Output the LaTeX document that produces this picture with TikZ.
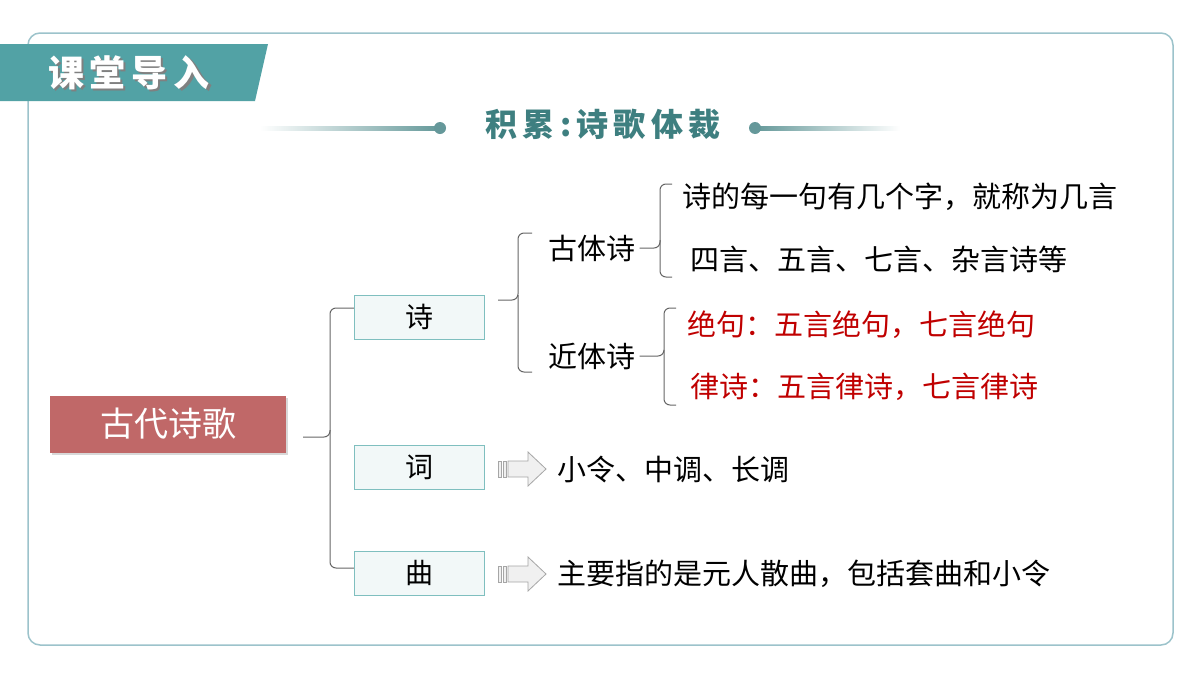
\documentclass[tikz,border=0pt]{standalone}
\usepackage{fontspec}
\setmainfont{Noto Sans CJK SC}
\usetikzlibrary{shadows}
\definecolor{frame}{HTML}{9CC3CB}
\definecolor{teal}{HTML}{52A2A5}
\definecolor{subt}{HTML}{3E7F80}
\definecolor{rosy}{HTML}{C06868}
\definecolor{boxf}{HTML}{F2F8F8}
\definecolor{boxd}{HTML}{7FBFBF}
\definecolor{redt}{HTML}{C00000}
\tikzset{
 x=1pt,y=-1pt,
 cat/.style={draw=boxd,fill=boxf,minimum width=130pt,minimum height=44pt,inner sep=0pt,font=\fontsize{28}{28}\selectfont},
 txt/.style={anchor=west,inner sep=0pt,font=\fontsize{29}{30}\selectfont},
 brace/.style={draw=gray!80!black,line width=1pt,rounded corners=6pt},
 harrow/.style={draw=gray!70,fill=gray!12,line width=0.8pt},
}
\begin{document}
\begin{tikzpicture}
\useasboundingbox (0,0) rectangle (1200,675);
\fill[white] (0,0) rectangle (1200,675);
\draw[frame,line width=1.5pt,rounded corners=12pt] (28,33) rectangle (1173,645);
\fill[teal] (0,44) -- (268,44) -- (255,101) -- (0,101) -- cycle;
\node[text=black!50,font=\fontsize{36}{36}\bfseries\selectfont] at (131,75) {课\,堂\,导\,入};
\node (ban) [text=white,font=\fontsize{36}{36}\bfseries\selectfont] at (129,73) {课\,堂\,导\,入};
\node (sub) [text=subt,font=\fontsize{32}{32}\bfseries\selectfont] at (603,124) {积\,累\,:\,诗\,歌\,体\,裁};
\shade[left color=white,right color=subt!80] (260,126) rectangle (440,130);
\fill[subt!80] (440,128) circle (6);
\shade[left color=subt!80,right color=white] (755,126) rectangle (900,130);
\fill[subt!80] (755,128) circle (6);
\node (root) [fill=rosy,text=white,minimum width=236pt,minimum height=57pt,inner sep=0pt,font=\fontsize{34}{34}\selectfont,drop shadow={opacity=0.3,shadow xshift=2pt,shadow yshift=-2pt}] at (168,424) {古代诗歌};
\node (shi) [cat] at (419,317) {诗};
\node (ci) [cat] at (419,467) {词};
\node (qu) [cat] at (419,573) {曲};
\draw[brace] (root.east)++(17,13) -- (330,437) -- (330,308) -- (shi.west|-0,308);
\draw[brace] (330,430) -- (330,568) -- (qu.west|-0,568);
\draw[brace] (498,300) -- (518,300) -- (518,233) -- (532,233);
\draw[brace] (518,295) -- (518,372) -- (532,372);
\node (gu) [txt,anchor=center] at (592,248) {古体诗};
\node (jin) [txt,anchor=center] at (592,356) {近体诗};
\draw[brace] (gu.east)++(4,0) -- (660,248) -- (660,184) -- (672,184);
\draw[brace] (660,240) -- (660,277) -- (672,277);
\node (g1) [txt] at (682,197) {诗的每一句有几个字，就称为几言};
\node (g2) [txt] at (690,259) {四言、五言、七言、杂言诗等};
\draw[brace] (jin.east)++(4,0) -- (664,356) -- (664,308) -- (676,308);
\draw[brace] (664,350) -- (664,405) -- (676,405);
\node (j1) [txt,text=redt] at (687,325) {绝句：五言绝句，七言绝句};
\node (j2) [txt,text=redt] at (690,387) {律诗：五言律诗，七言律诗};
\foreach \y/\n in {469/a1,574/a2}{
 \draw[harrow] (498,\y-8) rectangle (501,\y+8);
 \draw[harrow] (503,\y-8) rectangle (506,\y+8);
 \draw[harrow] (508,\y-8) -- (528,\y-8) -- (528,\y-17) -- (546,\y) -- (528,\y+17) -- (528,\y+8) -- (508,\y+8) -- cycle;
 \coordinate (\n) at (546,\y);
}
\node (c1) [txt] at (557,469) {小令、中调、长调};
\node (q1) [txt] at (557,574) {主要指的是元人散曲，包括套曲和小令};
\end{tikzpicture}
\end{document}
